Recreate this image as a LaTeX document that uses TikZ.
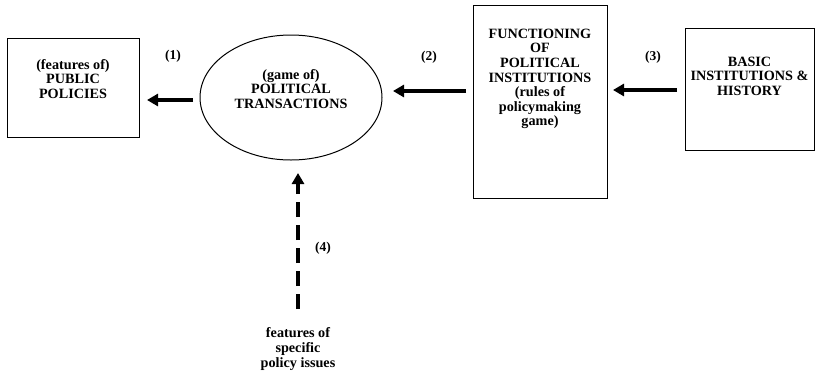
\documentclass[tikz,border=0pt]{standalone}
\usepackage{fontspec}
\setmainfont{Liberation Serif}
\usetikzlibrary{arrows.meta,shapes.geometric}
\tikzset{
  box/.style={draw, line width=1pt, inner sep=0pt},
  lbl/.style={align=center, font=\fontsize{14.2}{14.6}\selectfont\bfseries, inner sep=0pt},
  num/.style={font=\fontsize{13.5}{14}\selectfont\bfseries, inner sep=0pt},
  arr/.style={line width=3.6pt, -{Triangle[length=11pt,width=12pt]}},
}
\begin{document}
\begin{tikzpicture}[x=1pt,y=-1pt]
\useasboundingbox (0,0) rectangle (815,376);
% boxes
\node[box, minimum width=132pt, minimum height=99pt] (pp) at (73,88) {};
\node[lbl] (ppt) at (73,79) {(features of)\\PUBLIC\\POLICIES};
\node[box, ellipse, minimum width=182pt, minimum height=125pt] (pt) at (291,97.5) {};
\node[lbl] (ptt) at (291,89) {(game of)\\POLITICAL\\TRANSACTIONS};
\node[box, minimum width=134pt, minimum height=193pt] (fp) at (540,101.5) {};
\node[lbl] (fpt) at (540,79) {FUNCTIONING\\OF\\POLITICAL\\INSTITUTIONS\\(rules of\\policymaking\\game)};
\node[box, minimum width=129pt, minimum height=122pt] (bi) at (749.5,89) {};
\node[lbl] (bit) at (749.5,76) {BASIC\\INSTITUTIONS \&\\HISTORY};
\node[lbl] (fs) at (298,349) {features of\\specific\\policy issues};
% arrow end points
\coordinate (a1s) at (193,100); \coordinate (a1e) at (147,100);
\coordinate (a2s) at (466,91);  \coordinate (a2e) at (393,91);
\coordinate (a3s) at (677,90);  \coordinate (a3e) at (613,90);
\coordinate (a4s) at (298,309); \coordinate (a4e) at (298,173);
\draw[arr] (a1s) -- (a1e);
\draw[arr] (a2s) -- (a2e);
\draw[arr] (a3s) -- (a3e);
\draw[arr, dash pattern=on 15pt off 8pt] (a4s) -- (a4e);
% numbers
\node[num] (n1) at (173,56) {(1)};
\node[num] (n2) at (429,57) {(2)};
\node[num] (n3) at (653,57) {(3)};
\node[num] (n4) at (323,248) {(4)};
\end{tikzpicture}
\end{document}
